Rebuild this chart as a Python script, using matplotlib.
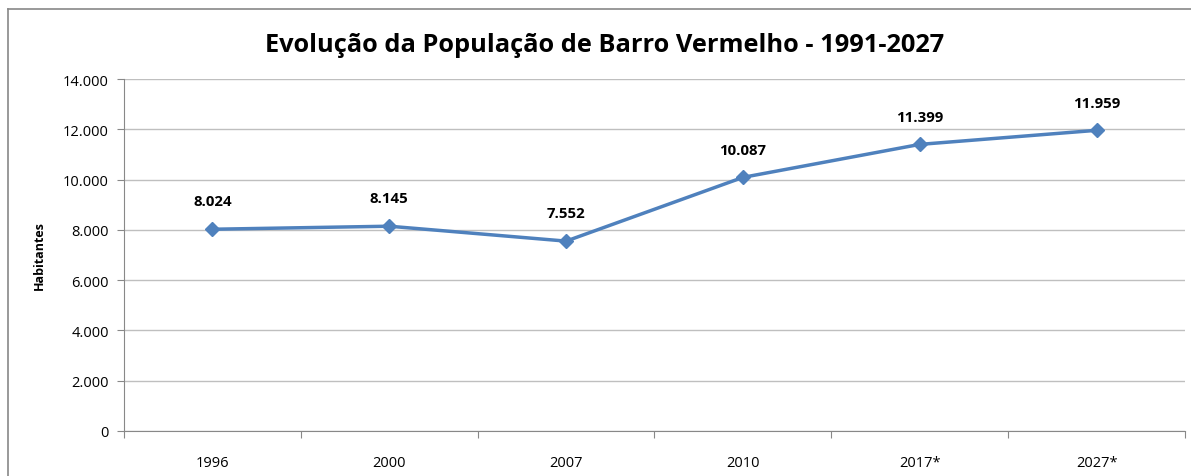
import matplotlib
matplotlib.use('Agg')
import matplotlib.pyplot as plt
import numpy as np
from matplotlib.lines import Line2D
from matplotlib.ticker import FuncFormatter

plt.rcParams['font.family'] = ['Open Sans', 'DejaVu Sans']

anos = ['1996', '2000', '2007', '2010', '2017*', '2027*']
habitantes = [8024, 8145, 7552, 10087, 11399, 11959]
y_ticks = [0, 2000, 4000, 6000, 8000, 10000, 12000, 14000]

def fmt_pt(v):
    # thousands separator with a dot, like the original
    return '{:,}'.format(int(v)).replace(',', '.')

fig = plt.figure(figsize=(11.91, 4.77), dpi=100)
ax = fig.add_axes([124/1191, 45/477, 1061/1191, 352/477])

x = np.arange(len(anos))
ax.plot(x, habitantes, color='#4F81BD', lw=2.5, marker='D', ms=7.5, zorder=3)

for xi, v in zip(x, habitantes):
    ax.annotate(fmt_pt(v), (xi, v), xytext=(0, 20), textcoords='offset points',
                ha='center', va='center', fontsize=10.8, fontweight='bold', color='black')

ax.set_xlim(-0.5, len(anos) - 0.5)
ax.set_ylim(0, 14000)
ax.set_yticks(y_ticks)
ax.yaxis.set_major_formatter(FuncFormatter(lambda v, p: fmt_pt(v)))
ax.grid(axis='y', color='#BFBFBF', lw=1)
ax.set_axisbelow(True)

# category boundaries as tick marks, labels at the centres
ax.set_xticks(np.arange(-0.5, len(anos)), minor=False)
ax.set_xticklabels([])
ax.set_xticks(x, minor=True)
ax.set_xticklabels(anos, minor=True)
ax.tick_params(axis='x', which='major', length=5, color='#888888')
ax.tick_params(axis='x', which='minor', length=0, pad=17, labelsize=10.5)
ax.tick_params(axis='y', length=5, color='#888888', labelsize=10.5, pad=6)

for s in ['top', 'right']:
    ax.spines[s].set_visible(False)
for s in ['left', 'bottom']:
    ax.spines[s].set_color('#888888')

ax.set_ylabel('Habitantes', fontsize=9, fontweight='bold', labelpad=12)

fig.suptitle('Evolução da População de Barro Vermelho - 1991-2027',
             x=605/1191, y=1 - 45/477, va='center', fontsize=18.3, fontweight='bold')

# chart frame (runs off the image on the right and bottom)
fig.add_artist(Line2D([8/1191, 8/1191], [0, 1 - 10/477], transform=fig.transFigure,
                      color='#888888', lw=1.2))
fig.add_artist(Line2D([8/1191, 1], [1 - 10/477, 1 - 10/477], transform=fig.transFigure,
                      color='#888888', lw=1.2))

fig.savefig('out.png', dpi=100)
